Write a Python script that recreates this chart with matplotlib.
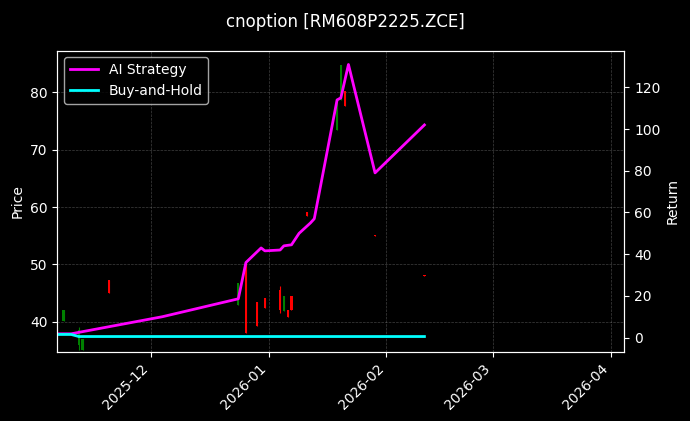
import matplotlib
matplotlib.use("Agg")
import matplotlib.pyplot as plt
import matplotlib.dates as mdates
import pandas as pd

plt.style.use("dark_background")

# candles: date, open, high, low, close
c_dates = ["2025-11-08", "2025-11-12", "2025-11-13", "2025-11-20", "2025-12-24", "2025-12-26",
           "2025-12-29", "2025-12-31", "2026-01-04", "2026-01-05", "2026-01-06", "2026-01-07",
           "2026-01-11", "2026-01-19", "2026-01-20", "2026-01-21", "2026-01-29", "2026-02-11"]
c_open = [40.1, 36.0, 35.1, 47.2, 42.9, 50.3, 43.5, 44.2, 45.5, 41.9, 42.1, 44.5, 59.1, 73.4, 78.6, 80.3, 55.2, 48.1]
c_close = [42.1, 38.6, 37.0, 45.0, 46.8, 38.1, 39.3, 42.4, 42.0, 44.5, 40.9, 42.1, 58.4, 78.6, 84.7, 77.6, 55.0, 47.9]
c_high = [42.1, 39.0, 37.0, 47.2, 46.8, 50.3, 43.5, 44.2, 46.2, 44.5, 42.1, 44.5, 59.1, 78.6, 84.7, 80.3, 55.2, 48.1]
c_low = [40.1, 35.1, 35.1, 45.0, 42.9, 38.1, 39.3, 42.4, 41.5, 41.9, 40.9, 42.1, 58.4, 73.4, 78.6, 77.6, 55.0, 47.9]

# strategy returns
s_dates = ["2025-11-06", "2025-11-10", "2025-11-12", "2025-12-04", "2025-12-24", "2025-12-26",
           "2025-12-30", "2025-12-31", "2026-01-04", "2026-01-05", "2026-01-07", "2026-01-09",
           "2026-01-12", "2026-01-13", "2026-01-19", "2026-01-20", "2026-01-22", "2026-01-29", "2026-02-11"]
ai_ret = [1.8, 1.8, 2.5, 10, 18.6, 36, 43, 41.6, 42, 44, 44.5, 50, 55, 57, 114, 115, 131, 79, 102]
bh_dates = ["2025-11-06", "2025-11-10", "2025-11-12", "2026-02-11"]
bh_ret = [1.5, 1.5, 0.5, 0.5]

cd = pd.to_datetime(c_dates)
fig, ax = plt.subplots(figsize=(6.9, 4.21), dpi=100)
for d, o, h, l, c in zip(cd, c_open, c_high, c_low, c_close):
    col = "green" if c >= o else "red"
    ax.vlines(d, l, h, color=col, lw=0.8)
    ax.bar(d, abs(c - o) or 0.3, bottom=min(o, c), width=0.6, color=col)
ax.set_ylim(34.8, 87.3)
ax.set_ylabel("Price")
ax.grid(True, ls="--", lw=0.5, color="gray", alpha=0.5)

ax2 = ax.twinx()
ax2.plot(pd.to_datetime(s_dates), ai_ret, color="magenta", lw=2, label="AI Strategy")
ax2.plot(pd.to_datetime(bh_dates), bh_ret, color="cyan", lw=2, label="Buy-and-Hold")
ax2.set_ylim(-6.7, 137.7)
ax2.set_ylabel("Return")
ax2.legend(loc="upper left")

ax.set_xlim(pd.Timestamp("2025-11-06 08:00"), pd.Timestamp("2026-04-04 16:00"))
ax.xaxis.set_major_locator(mdates.MonthLocator())
ax.xaxis.set_major_formatter(mdates.DateFormatter("%Y-%m"))
plt.setp(ax.get_xticklabels(), rotation=45, ha="right")
fig.suptitle("cnoption [RM608P2225.ZCE]", y=0.97)
fig.subplots_adjust(left=0.083, right=0.905, top=0.88, bottom=0.165)
fig.savefig("out.png", dpi=100)
